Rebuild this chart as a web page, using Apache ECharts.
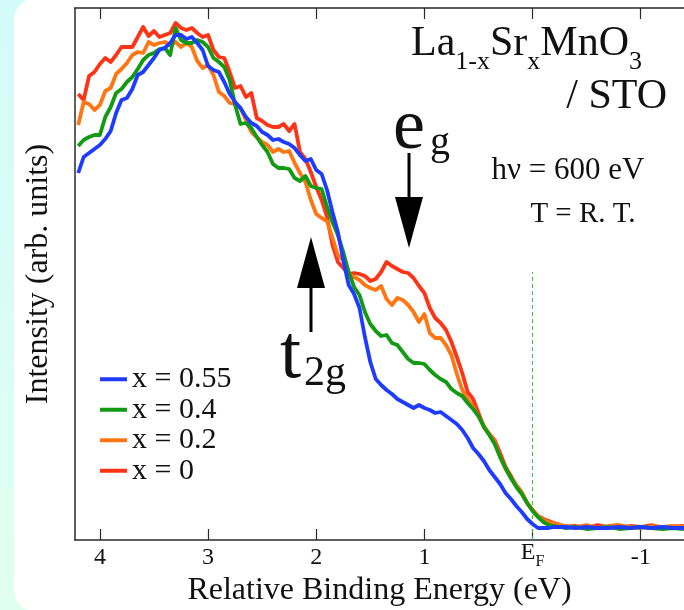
<!DOCTYPE html>
<html><head><meta charset="utf-8">
<script src="https://cdn.jsdelivr.net/npm/echarts@6/dist/echarts.min.js"></script>
<style>
html,body{margin:0;padding:0;width:684px;height:610px;overflow:hidden;background:linear-gradient(#d3fbf9,#e0fff0);}
#main{width:684px;height:610px;}
</style>
</head><body><div id="main"></div>
<script>
// Relative binding energy (eV): 4.20 .. -0.20 step 0.05, then -0.3 .. -1.4 step 0.1
const energies = [
 4.20,4.15,4.10,4.05,4.00,3.95,3.90,3.85,3.80,3.75,
 3.70,3.65,3.60,3.55,3.50,3.45,3.40,3.35,3.30,3.25,
 3.20,3.15,3.10,3.05,3.00,2.95,2.90,2.85,2.80,2.75,
 2.70,2.65,2.60,2.55,2.50,2.45,2.40,2.35,2.30,2.25,
 2.20,2.15,2.10,2.05,2.00,1.95,1.90,1.85,1.80,1.75,
 1.70,1.65,1.60,1.55,1.50,1.45,1.40,1.35,1.30,1.25,
 1.20,1.15,1.10,1.05,1.00,0.95,0.90,0.85,0.80,0.75,
 0.70,0.65,0.60,0.55,0.50,0.45,0.40,0.35,0.30,0.25,
 0.20,0.15,0.10,0.05,0.00,-0.05,-0.10,-0.15,-0.20,
 -0.3,-0.4,-0.5,-0.6,-0.7,-0.8,-0.9,-1.0,-1.1,-1.2,-1.3,-1.4
];
// Intensity (arb. units)
const intensityX055 = [
 367,383,387,391,395,401,409,427,440,442,
 451,465,468,475,482,490,492,497,505,505,
 501,503,497,490,474,470,468,458,446,438,
 432,423,417,414,408,405,400,401,398,396,
 392,385,379,381,370,366,350,328,308,280,
 255,246,232,203,178,161,155,150,146,141,
 138,135,132,135,132,130,127,128,124,120,
 116,110,102,92,86,79,70,63,56,47,
 41,34,28,21,16,12,12,12,13,
 13,12,13,12,12,13,12,13,12,13,12,12
];
const intensityX04 = [
 394,400,403,405,405,423,433,447,451,458,
 463,471,480,485,487,491,492,485,512,500,
 497,497,500,498,493,482,478,473,460,435,
 416,417,412,403,395,388,376,372,372,371,
 362,359,364,354,352,351,333,318,305,288,
 268,253,245,228,216,209,204,205,197,195,
 188,181,177,177,176,170,165,161,158,151,
 147,144,137,131,124,113,105,96,83,72,
 62,53,46,37,29,23,18,15,14,
 12,13,11,12,13,11,12,13,12,11,12,11
];
const intensityX02 = [
 415,438,436,430,435,449,452,466,471,477,
 485,488,487,498,495,497,498,495,498,493,
 497,493,479,472,475,465,448,444,437,436,
 432,420,408,403,398,395,388,391,388,389,
 377,367,358,340,326,322,319,302,285,280,
 266,263,260,255,252,250,254,241,235,242,
 240,235,228,218,226,207,202,202,195,185,
 166,150,141,133,124,114,106,99,83,71,
 62,55,48,37,30,24,20,18,17,
 14,13,15,12,14,15,13,12,14,13,14,13
];
const intensityX0 = [
 446,440,464,468,476,482,478,485,493,493,
 493,503,513,504,509,503,505,507,517,512,
 510,512,507,503,505,490,483,482,468,452,
 454,443,447,422,419,415,413,413,416,409,
 416,388,381,368,353,340,323,295,278,272,
 266,267,266,264,259,261,268,278,274,271,
 268,267,262,254,247,232,222,217,210,198,
 183,167,148,141,127,113,106,100,87,73,
 64,54,47,37,30,24,21,19,17,
 13,14,12,15,13,12,14,13,15,12,13,14
];
const seriesNames = ['x = 0.55','x = 0.4','x = 0.2','x = 0'];
const seriesColors = ['#1e3cff','#129a12','#ff7612','#ff3416'];
const tickValues = [4,3,2,1,0,-1];
const tickLabels = ['4','3','2','1','{e|E}{f|F}','-1'];
const efLineEnergy = [0,0];
const efLineIntensity = [0,268];

const SERIF = "'Liberation Serif','DejaVu Serif',serif";
const INK = '#111';
const zip = (xs, ys) => xs.map((x,i)=>[x, ys[i]]);
const seriesData = [intensityX055, intensityX04, intensityX02, intensityX0];

const chart = echarts.init(document.getElementById('main'), null, {renderer:'canvas'});

const lineSeries = [];
for (let k = seriesNames.length - 1; k >= 0; k--) {
  lineSeries.push({
    name: seriesNames[k], type:'line', data: zip(energies, seriesData[k]),
    showSymbol:false, symbol:'none', smooth:false, animation:false,
    lineStyle:{color:seriesColors[k], width:3.8, join:'round'},
    itemStyle:{color:seriesColors[k]}, z: 3 + (seriesNames.length - k)
  });
}
lineSeries.unshift({
  name:'EF', type:'line', data: zip(efLineEnergy, efLineIntensity),
  showSymbol:false, symbol:'none', animation:false, silent:true,
  lineStyle:{color:'#3cb84a', width:1, type:[4,3]}, z:2
});

function arrowDown(cx, y0, y1, headY, hw) {
  return [
    {type:'rect', shape:{x:cx-1.5, y:y0, width:3, height:headY-y0+2}, style:{fill:'#000'}},
    {type:'polygon', shape:{points:[[cx-hw,headY],[cx+hw,headY],[cx,y1]]}, style:{fill:'#000'}}
  ];
}
function arrowUp(cx, y0, y1, headY, hw) {
  return [
    {type:'rect', shape:{x:cx-1.5, y:headY-2, width:3, height:y0-headY+2}, style:{fill:'#000'}},
    {type:'polygon', shape:{points:[[cx-hw,headY],[cx+hw,headY],[cx,y1]]}, style:{fill:'#000'}}
  ];
}
function glyph(txt, x, y, fs) {
  return {type:'text', x:x, y:y, z:50, style:{text:txt, fontFamily:SERIF, fontSize:fs, lineHeight:fs, verticalAlign:'middle', fill:INK}};
}

const option = {
  backgroundColor:'transparent',
  animation:false,
  grid:{left:75, right:0, top:8, bottom:70, containLabel:false, outerBoundsMode:'none'},
  legend:{
    data: seriesNames, orient:'vertical', left:95, top:359,
    itemWidth:27, itemHeight:4, itemGap:0, icon:'rect',
    textStyle:{fontFamily:SERIF, fontSize:30, color:INK, lineHeight:30.5, padding:[0,0,0,0]}
  },
  xAxis:[{
    type:'value', inverse:true, min:-1.4, max:4.23, position:'bottom',
    axisLine:{show:true, onZero:false, lineStyle:{color:'#2a2a2a', width:1.5}},
    axisTick:{show:true, inside:true, length:11, customValues:tickValues, lineStyle:{color:'#2a2a2a', width:1.2}},
    axisLabel:{show:true, customValues:tickValues, margin:6, fontFamily:SERIF, fontSize:24, color:INK, lineHeight:24,
      formatter:(v)=>{const i=tickValues.indexOf(v); return i>=0?tickLabels[i]:'';},
      rich:{e:{fontFamily:SERIF,fontSize:24,lineHeight:24,color:INK,verticalAlign:'bottom',padding:[0,0,5,0]},
            f:{fontFamily:SERIF,fontSize:16,lineHeight:16,color:INK,verticalAlign:'bottom'}}},
    splitLine:{show:false},
    name:'Relative Binding Energy (eV)', nameLocation:'middle', nameGap:35,
    nameTextStyle:{fontFamily:SERIF, fontSize:32, color:INK}
  },{
    type:'value', inverse:true, min:-1.4, max:4.23, position:'top',
    axisLine:{show:true, onZero:false, lineStyle:{color:'#2a2a2a', width:1.5}},
    axisTick:{show:true, inside:true, length:11, customValues:tickValues, lineStyle:{color:'#2a2a2a', width:1.2}},
    axisLabel:{show:false}, splitLine:{show:false}
  }],
  yAxis:{
    type:'value', min:0, max:532,
    axisLine:{show:true, onZero:false, lineStyle:{color:'#2a2a2a', width:1.5}},
    axisTick:{show:false}, axisLabel:{show:false}, splitLine:{show:false},
    name:'Intensity (arb. units)', nameLocation:'middle', nameGap:20,
    nameTextStyle:{fontFamily:SERIF, fontSize:32, color:INK}
  },
  series: lineSeries,
  graphic:[
    {type:'rect', z:-100, silent:true, shape:{x:14, y:-2, width:700, height:614, r:22}, style:{fill:'#ffffff'}},
    {type:'text', x:411, y:33, z:50, style:{
      text:'{a|La}{s|1-x}{a|Sr}{s|x}{a|MnO}{s|3}',
      rich:{a:{fontFamily:SERIF,fontSize:42,lineHeight:42,padding:[0,0,10,0],verticalAlign:'bottom',fill:INK},
            s:{fontFamily:SERIF,fontSize:26,lineHeight:26,verticalAlign:'bottom',fill:INK}}}},
    {type:'text', x:667, y:76, z:50, style:{text:'/ STO', align:'right', fontFamily:SERIF, fontSize:42, fill:INK}},
    glyph('e', 393, 129, 72),
    glyph('g', 430, 143, 40),
    glyph('t', 280, 357, 76),
    glyph('2g', 304, 374, 42),
    {type:'text', x:568, y:171, z:50, style:{text:'h\u03bd = 600 eV', align:'center', verticalAlign:'middle', fontFamily:SERIF, fontSize:31, fill:INK}},
    {type:'text', x:583, y:214, z:50, style:{text:'T = R. T.', align:'center', verticalAlign:'middle', fontFamily:SERIF, fontSize:29, fill:INK}},
    {type:'group', z:50, children: arrowDown(409, 153, 248, 197, 14)},
    {type:'group', z:50, children: arrowUp(311, 332, 237, 288, 14)}
  ]
};
chart.setOption(option);
</script>
</body></html>
